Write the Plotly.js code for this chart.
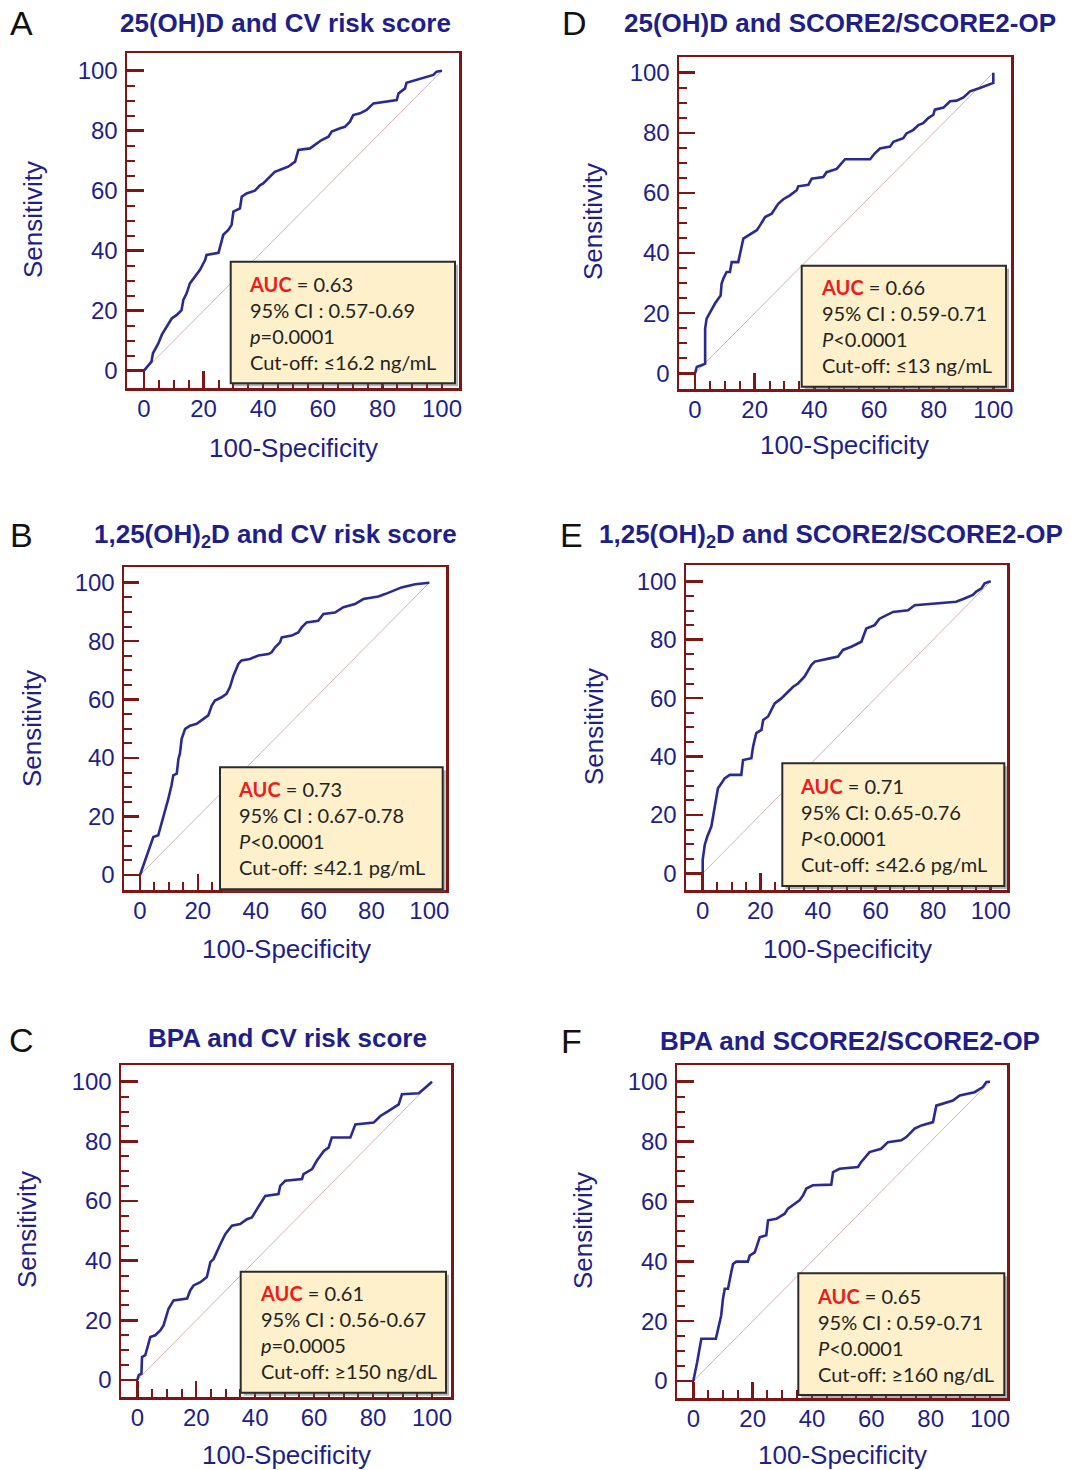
<!DOCTYPE html>
<html>
<head>
<meta charset="utf-8">
<script src="https://cdn.plot.ly/plotly-3.0.1.min.js"></script>
<style>html,body{margin:0;padding:0;background:#fff;}#chart{width:1071px;height:1470px;}</style>
</head>
<body>
<div id="chart"></div>
<script>
// ---------------- DATA ----------------
const panelLetters = ['A', 'D', 'B', 'E', 'C', 'F'];
const panelTitles = [
  '25(OH)D and CV risk score',
  '25(OH)D and SCORE2/SCORE2-OP',
  '1,25(OH)<sub>2</sub>D and CV risk score',
  '1,25(OH)<sub>2</sub>D and SCORE2/SCORE2-OP',
  'BPA and CV risk score',
  'BPA and SCORE2/SCORE2-OP'
];
const aucValues = ['0.63', '0.66', '0.73', '0.71', '0.61', '0.65'];
const ciValues = ['95% CI : 0.57-0.69', '95% CI : 0.59-0.71', '95% CI : 0.67-0.78', '95% CI: 0.65-0.76', '95% CI : 0.56-0.67', '95% CI : 0.59-0.71'];
const pSymbols = ['p', 'P', 'P', 'P', 'p', 'P'];
const pValues = ['=0.0001', '<0.0001', '<0.0001', '<0.0001', '=0.0005', '<0.0001'];
const cutoffs = ['Cut-off: ≤16.2 ng/mL', 'Cut-off: ≤13 ng/mL', 'Cut-off: ≤42.1 pg/mL', 'Cut-off: ≤42.6 pg/mL', 'Cut-off: ≥150 ng/dL', 'Cut-off: ≥160 ng/dL'];

const xAxisTitle = '100-Specificity';
const yAxisTitle = 'Sensitivity';
const majorTicks = [0, 20, 40, 60, 80, 100];
const minorTicks = [5, 10, 15, 25, 30, 35, 45, 50, 55, 65, 70, 75, 85, 90, 95];
const chanceLine = [0, 100];

// A: 25(OH)D and CV risk score
const fprA = [0, 2.5, 3, 4.8, 6, 7.6, 9.3, 11, 12.6, 13.2, 14.3, 15.4, 17.1, 18.8, 20.5, 21, 25, 26.1, 26.6, 28.3, 29.4, 30, 32.2, 32.8, 34.4, 37.2, 38.9, 40, 42.3, 43.9, 46.8, 48.4, 50.7, 51.8, 55.7, 58, 59.6, 61.9, 63, 65.8, 67.4, 69.1, 70.2, 72.5, 74.7, 77, 81.4, 84.8, 85.4, 87.6, 88.1, 91.5, 94.8, 97.1, 98.2, 100];
const tprA = [0, 3, 5.8, 9.1, 12, 14.7, 17.4, 18.6, 20.2, 23.6, 25.8, 29.1, 31.3, 33.6, 36.9, 38.6, 39.3, 43.6, 45.3, 46.9, 48.6, 53, 54.1, 58, 59.1, 60, 61.8, 62.4, 64.7, 66.3, 67.4, 68, 69.7, 73.6, 74.1, 75.8, 76.9, 78, 79.7, 80.8, 81.3, 83, 85.2, 85.8, 86.9, 89.1, 89.7, 90.2, 92.4, 94.1, 96, 96.9, 98, 98.6, 99.7, 100];
// D: 25(OH)D and SCORE2/SCORE2-OP
const fprD = [0, 0.6, 2.8, 3.4, 3.4, 3.9, 4.5, 5.6, 6.7, 7.8, 8.6, 8.9, 9.5, 10.6, 11.7, 12.3, 14.5, 16.2, 17.9, 20.7, 21.8, 23.5, 25.7, 27.9, 29.6, 31.8, 34.1, 34.6, 38, 39.1, 43, 44.1, 47.5, 50.3, 58.7, 60.3, 62, 65.4, 66.5, 69.8, 70.9, 73.2, 74.9, 76.5, 78.2, 79.9, 80.4, 83.3, 85.5, 87.7, 90, 92.2, 95.5, 98.3, 100, 100];
const tprD = [0, 2.1, 2.9, 3.2, 14.9, 18.2, 19.3, 21.5, 23.2, 24.8, 25.9, 29.8, 31.5, 33.7, 33.7, 37, 37, 44.8, 45.9, 47.6, 49.2, 52, 53.1, 56.4, 57.9, 59.2, 60.9, 62.2, 62.7, 64.7, 65.3, 66.9, 68, 71.2, 71.2, 73.2, 74.8, 75.4, 77, 78.2, 79.8, 81, 82.6, 83.2, 84.9, 86, 87.7, 88.4, 90.5, 90.7, 91.8, 93.8, 94.9, 95.8, 96.6, 100];
// B: 1,25(OH)2D and CV risk score
const fprB = [0, 1.2, 2.3, 3.5, 4.6, 6.3, 6.9, 8.1, 9.2, 9.8, 10.9, 11.5, 12.7, 13.3, 13.8, 14.4, 15.6, 17.3, 19.6, 21.9, 23.6, 24.8, 25.9, 28.2, 29.9, 31.1, 32.3, 34, 35.1, 38, 40.9, 44.4, 45.5, 46.7, 48.4, 49, 52.4, 54.7, 55.9, 57.6, 61.6, 63.4, 67.4, 70.3, 74.3, 77.2, 82.4, 84.7, 87.6, 90.4, 95.1, 100];
const tprB = [0, 3.3, 6.7, 9.6, 13, 13.6, 15.8, 19.3, 23.8, 26.1, 30.7, 34.1, 34.7, 39.8, 41.5, 46.6, 50, 51.1, 51.7, 53.4, 54.6, 58, 59.7, 60.8, 62, 64.3, 68.2, 72.2, 73.4, 73.9, 75.1, 75.6, 76.2, 77.9, 79.6, 81.3, 81.9, 83, 84.7, 86.4, 87, 89.3, 89.8, 91.6, 92.7, 94.4, 95.3, 96.1, 97.3, 98.4, 99.5, 100];
// E: 1,25(OH)2D and SCORE2/SCORE2-OP
const fprE = [0, 0, 0.7, 1.6, 3, 3.6, 4.2, 4.7, 5.3, 6.5, 7.6, 9.4, 13.4, 14, 16.9, 17.5, 18.6, 20.4, 21, 22.7, 25, 27.3, 29, 31.4, 33.1, 35.4, 37.7, 38.9, 44.1, 47, 48.7, 51.6, 55.1, 56.8, 59.7, 61.4, 66.1, 71.3, 73.6, 82.3, 88, 90.9, 93.8, 95, 96.8, 97.9, 100];
const tprE = [0, 4.6, 9.7, 12.6, 16, 19.4, 24, 26.3, 29.1, 30.8, 32.5, 33.7, 33.7, 38.8, 39.4, 43.4, 48, 49.1, 52.5, 53.7, 58.2, 59.9, 61.6, 63.9, 65, 67.4, 71.3, 72.5, 73.6, 74.2, 76.5, 77.6, 79.3, 83.8, 85, 87.2, 89.5, 90.1, 91.8, 92.6, 93, 94.1, 95.3, 96.5, 97.6, 99.3, 100];
// C: BPA and CV risk score
const fprC = [0, 0.5, 1.4, 1.6, 2.7, 3.8, 4.4, 6.1, 7.8, 8.9, 9.5, 10.6, 12.3, 16.9, 18, 19.1, 21.4, 23.6, 24.8, 25.9, 28.2, 29.9, 32.1, 34.9, 37.2, 38.9, 40.6, 43.4, 47.9, 48.5, 50.2, 55.9, 56.4, 59.3, 60.9, 63.3, 64.9, 66, 72.3, 74, 80.2, 82.5, 85.3, 88.7, 89.8, 95.5, 97.7, 100];
const tprC = [0, 1.6, 2.1, 7.7, 8.3, 12.2, 14.4, 15, 16.6, 18.3, 20.6, 23.9, 26.7, 27.3, 30.1, 31.7, 32.8, 34.5, 39.5, 40.6, 45.6, 49, 51.7, 52.3, 53.9, 54.5, 57.3, 61.7, 62.3, 65.1, 66.8, 67.4, 69, 70.7, 73.5, 76.8, 77.9, 81.3, 81.3, 85.7, 86.3, 88.5, 90.2, 92.4, 95.8, 96.1, 98, 100];
// F: BPA and SCORE2/SCORE2-OP
const fprF = [0, 0.7, 1.3, 2.1, 2.7, 7.6, 8.3, 8.9, 9.4, 10, 10.6, 11.7, 12.2, 12.8, 13.4, 14.5, 18.4, 19, 20.7, 21.8, 22.4, 24.6, 25.2, 28, 30.8, 31.9, 34.2, 35.8, 37, 38.1, 40.3, 46.5, 47.1, 49.3, 55.5, 56.6, 59.4, 63.3, 65.6, 70.1, 71.8, 74.6, 76.9, 80.8, 81.9, 87.5, 89.8, 94.8, 97.6, 98.8, 100];
const tprF = [0, 3, 6.3, 10.8, 14.1, 14.1, 17.5, 19.7, 21.9, 27.5, 30.8, 30.8, 34.1, 36.4, 39.1, 39.9, 39.9, 41.9, 43, 45.8, 48, 48.7, 53.7, 54.2, 55.9, 57.6, 59.2, 60.4, 62, 64.3, 65.4, 65.6, 69.8, 70.9, 71.5, 73.2, 76.5, 77.6, 79.8, 80.4, 81.5, 84.3, 85.4, 86.5, 92, 93.7, 95.4, 96.5, 98.2, 99.9, 100];

const fprAll = [fprA, fprD, fprB, fprE, fprC, fprF];
const tprAll = [tprA, tprD, tprB, tprE, tprC, tprF];

// ---------------- LAYOUT GEOMETRY (pixels) ----------------
const W = 1071, H = 1470;
const NAVY = '#1f1f8c', CURVE = '#2a2a95', MAROON = '#7e1616';
const geo = [
  {l:127, r:459, t:53,   b:388,  x0:144,   x100:442,   y0:370.7, y100:70.7,
   box:[230.7,455,261.7,383.3], txt:[248.3,284], title:[285,23], letter:[21,23], ytitle:[33,220], xtitle:[293,448]},
  {l:679, r:1011, t:57,  b:389,  x0:695,   x100:993.3, y0:373.3, y100:72.7,
   box:[801.7,1006,265.7,386.7], txt:[820,287.3], title:[840,23], letter:[574,23], ytitle:[593,222], xtitle:[844,445]},
  {l:124, r:446, t:567,  b:890,  x0:140,   x100:429.3, y0:875,   y100:582.7,
   box:[220,442.7,767.3,889.3], txt:[236.7,789.3], title:[275,535], letter:[21,535], ytitle:[32,729], xtitle:[286,949]},
  {l:686, r:1007, t:565, b:890,  x0:702.7, x100:990.7, y0:873.3, y100:581.3,
   box:[782.3,1004.3,763.3,886], txt:[799.3,786], title:[831,535], letter:[571,535], ytitle:[594,727], xtitle:[847,949]},
  {l:121, r:451, t:1065, b:1397, x0:137.3, x100:432,   y0:1380,  y100:1081.7,
   box:[240.7,446,1271.7,1392.7], txt:[258.7,1293.3], title:[287,1038], letter:[21,1040], ytitle:[27,1230], xtitle:[286,1455]},
  {l:677, r:1007, t:1065, b:1398, x0:693.3, x100:990, y0:1381,  y100:1081.7,
   box:[798.3,1004.3,1273.3,1395], txt:[816,1296], title:[850,1041], letter:[571,1041], ytitle:[583,1231], xtitle:[842,1455]}
];
const PX = p => p / W;
const PY = p => 1 - p / H;

const traces = [];
const layout = {
  width: W, height: H,
  margin: {l:0, r:0, t:0, b:0},
  paper_bgcolor: '#ffffff',
  plot_bgcolor: '#ffffff',
  showlegend: false,
  shapes: [],
  annotations: []
};

const SANS = 'Liberation Sans, Arial, sans-serif';
const BOXFONT = 'Lato, Open Sans, sans-serif';

geo.forEach((g, i) => {
  const n = i + 1;
  const xs = (g.x100 - g.x0) / 100;
  const ys = (g.y0 - g.y100) / 100;
  const xr = [(g.l - g.x0) / xs, (g.r - g.x0) / xs];
  const yr = [(g.y0 - g.b) / ys, (g.y0 - g.t) / ys];
  const xa = n === 1 ? 'x' : 'x' + n;
  const ya = n === 1 ? 'y' : 'y' + n;

  const common = {
    tickmode: 'array',
    tickvals: majorTicks,
    ticktext: majorTicks.map(String),
    ticks: 'inside',
    tickwidth: 2.5,
    tickcolor: MAROON,
    showline: true,
    mirror: true,
    linecolor: MAROON,
    linewidth: 2.5,
    showgrid: false,
    zeroline: false,
    fixedrange: true,
    tickfont: {family: SANS, size: 24, color: NAVY},
    minor: {tickmode: 'array', tickvals: minorTicks, ticks: 'inside', ticklen: 8, tickwidth: 2, tickcolor: MAROON, showgrid: false}
  };
  layout['xaxis' + (n === 1 ? '' : n)] = Object.assign({}, common, {
    domain: [PX(g.l), PX(g.r)], range: xr, anchor: ya,
    ticklen: g.x0 - g.l, ticklabelstandoff: -2
  });
  layout['yaxis' + (n === 1 ? '' : n)] = Object.assign({}, common, {
    domain: [PY(g.b), PY(g.t)], range: yr, anchor: xa,
    ticklen: g.b - g.y0, ticklabelstandoff: 2
  });

  traces.push({
    x: chanceLine, y: chanceLine, xaxis: xa, yaxis: ya,
    mode: 'lines', line: {color: '#dcb0b0', width: 1}, hoverinfo: 'skip'
  });
  traces.push({
    x: fprAll[i], y: tprAll[i], xaxis: xa, yaxis: ya,
    mode: 'lines', line: {color: CURVE, width: 2.6}, hoverinfo: 'skip'
  });

  const [bl, br, bt, bb] = g.box;
  layout.shapes.push({
    type: 'rect', xref: 'paper', yref: 'paper', layer: 'above',
    x0: PX(bl + 3), x1: PX(br + 3), y0: PY(bb + 3), y1: PY(bt + 3),
    fillcolor: 'rgba(90,90,90,0.45)', line: {width: 0}
  });
  layout.shapes.push({
    type: 'rect', xref: 'paper', yref: 'paper', layer: 'above',
    x0: PX(bl), x1: PX(br), y0: PY(bb), y1: PY(bt),
    fillcolor: '#fdf0ca', line: {color: '#2b2b2b', width: 2}
  });
  const statText =
    '<span style="color:#ee1c1c"><b>AUC</b></span> = ' + aucValues[i] + '<br>' +
    ciValues[i] + '<br>' +
    '<i>' + pSymbols[i] + '</i>' + pValues[i] + '<br>' +
    cutoffs[i];
  layout.annotations.push({
    xref: 'paper', yref: 'paper', x: PX(g.txt[0] - 1), y: PY(g.txt[1] + 39),
    xanchor: 'left', yanchor: 'middle', align: 'left', showarrow: false,
    text: statText, font: {family: BOXFONT, size: 20, color: '#222222'}
  });

  layout.annotations.push({
    xref: 'paper', yref: 'paper', x: PX(g.title[0]), y: PY(g.title[1]),
    xanchor: 'center', yanchor: 'middle', showarrow: false,
    text: '<b>' + panelTitles[i] + '</b>', font: {family: SANS, size: 26, color: NAVY}
  });
  layout.annotations.push({
    xref: 'paper', yref: 'paper', x: PX(g.letter[0]), y: PY(g.letter[1]),
    xanchor: 'center', yanchor: 'middle', showarrow: false,
    text: panelLetters[i], font: {family: SANS, size: 34, color: '#111111'}
  });
  layout.annotations.push({
    xref: 'paper', yref: 'paper', x: PX(g.ytitle[0]), y: PY(g.ytitle[1]),
    xanchor: 'center', yanchor: 'middle', showarrow: false, textangle: -90,
    text: yAxisTitle, font: {family: SANS, size: 26, color: NAVY}
  });
  layout.annotations.push({
    xref: 'paper', yref: 'paper', x: PX(g.xtitle[0]), y: PY(g.xtitle[1]),
    xanchor: 'center', yanchor: 'middle', showarrow: false,
    text: xAxisTitle, font: {family: SANS, size: 26, color: NAVY}
  });
});

Plotly.newPlot('chart', traces, layout, {staticPlot: true, displayModeBar: false});
</script>
</body>
</html>
